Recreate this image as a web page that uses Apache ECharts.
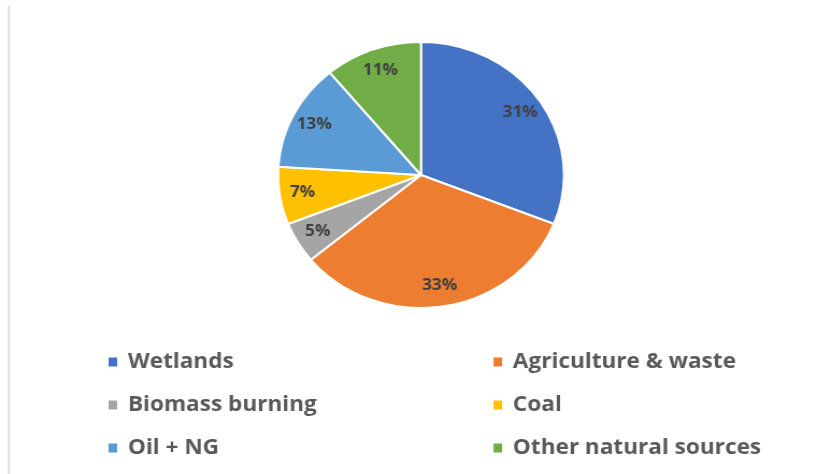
<!DOCTYPE html>
<html><head><meta charset="utf-8">
<script src="https://cdn.jsdelivr.net/npm/echarts@6/dist/echarts.min.js"></script>
<style>html,body{margin:0;padding:0;background:#fff;overflow:hidden}
#c{width:763px;height:474px;transform:scaleX(1.075);transform-origin:0 0}</style>
</head><body><div id="c"></div>
<script>
const categories = ['Wetlands','Agriculture & waste','Biomass burning','Coal','Oil + NG','Other natural sources'];
const values = [31,33,5,7,13,11];
const colors = ['#4472C4','#ED7D31','#A5A5A5','#FFC000','#5B9BD5','#70AD47'];
const leftLegend = ['Wetlands','Biomass burning','Oil + NG'];
const rightLegend = ['Agriculture & waste','Coal','Other natural sources'];

const S = 1.075;
const data = categories.map((n,i)=>({name:n,value:values[i],itemStyle:{color:colors[i]}}));
const chart = echarts.init(document.getElementById('c'));
const legendCommon = {
  orient:'vertical', top:346, itemWidth:10, itemHeight:11, icon:'rect', itemGap:21,
  textStyle:{fontFamily:'Open Sans', fontWeight:700, fontSize:21, color:'#595959', lineHeight:22, padding:[0,0,0,4]},
  selectedMode:false
};
chart.setOption({
  animation:false,
  graphic:[{type:'rect', shape:{x:8/S,y:6,width:2/S,height:468}, style:{fill:'#dcdcdc'}}],
  legend:[
    Object.assign({left:101/S, data:leftLegend}, legendCommon),
    Object.assign({left:486/S, data:rightLegend}, legendCommon)
  ],
  series:[
    {type:'pie', center:[421/S,175], radius:[0,133], startAngle:90, clockwise:true,
     data:data, label:{show:false}, labelLine:{show:false},
     itemStyle:{borderColor:'#fff', borderWidth:2}},
    {type:'pie', center:[421/S,175], radius:[84,133], startAngle:90, clockwise:true, silent:true,
     data:categories.map((n,i)=>({name:n,value:values[i],itemStyle:{color:'rgba(0,0,0,0)'}})),
     label:{show:true, position:'inside', formatter:'{d}%', fontFamily:'Open Sans', fontWeight:700, fontSize:16, color:'#404040'},
     labelLine:{show:false}, emphasis:{disabled:true}, legendHoverLink:false}
  ]
});
</script></body></html>
